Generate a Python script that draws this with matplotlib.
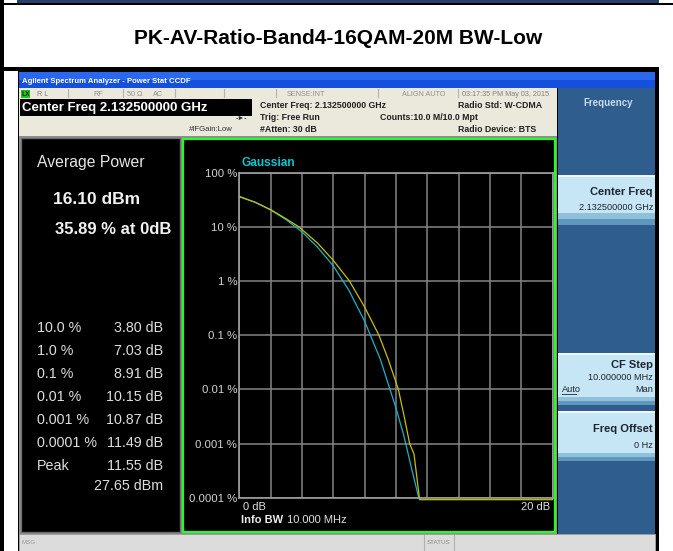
import matplotlib
matplotlib.use("Agg")
import matplotlib.pyplot as plt
from matplotlib.patches import Rectangle
from matplotlib.ticker import NullLocator

plt.rcParams["font.family"] = ["Liberation Sans", "DejaVu Sans"]

W, H = 673, 551

title = "PK-AV-Ratio-Band4-16QAM-20M BW-Low"

# CCDF traces: power above average (dB) vs probability (%)
meas_db = [0, 1, 2, 3, 3.80, 5, 6, 7.03, 8, 8.91, 9.5, 10.15, 10.5, 10.87, 10.95, 11.15, 11.49, 11.55, 20]
meas_pct = [35.89, 28.6, 20.8, 14.0, 10.0, 5.0, 2.4, 1.0, 0.33, 0.1, 0.036, 0.01, 0.0034, 0.001,
            0.00088, 0.00064, 0.0001, 0.000092, 0.000092]
gauss_db = [0, 1, 2, 3, 4, 5, 6, 7, 8, 9, 10, 10.5, 11, 11.45, 11.5]
gauss_pct = [36.8, 28.4, 20.5, 13.5, 8.1, 4.2, 1.9, 0.67, 0.18, 0.036, 0.0045, 0.0014, 0.00034, 0.0001, 0.000092]

y_ticks = [100, 10, 1, 0.1, 0.01, 0.001, 0.0001]
y_labels = ["100 %", "10 %", "1 %", "0.1 %", "0.01 %", "0.001 %", "0.0001 %"]
x_grid = [0, 2, 4, 6, 8, 10, 12, 14, 16, 18, 20]

stat_levels = ["10.0 %", "1.0 %", "0.1 %", "0.01 %", "0.001 %", "0.0001 %", "Peak", ""]
stat_values = ["3.80 dB", "7.03 dB", "8.91 dB", "10.15 dB", "10.87 dB", "11.49 dB", "11.55 dB", "27.65 dBm"]

fig = plt.figure(figsize=(W / 100, H / 100), dpi=100)
bg = fig.add_axes([0, 0, 1, 1])
bg.set_xlim(0, W)
bg.set_ylim(H, 0)
bg.axis("off")


def box(x0, y0, x1, y1, fc, ec="none", lw=0):
    bg.add_patch(Rectangle((x0, y0), x1 - x0, y1 - y0, facecolor=fc, edgecolor=ec, linewidth=lw))


def txt(x, y, s, size, color="black", weight="normal", ha="left"):
    bg.text(x, y, s, fontsize=size, color=color, fontweight=weight, ha=ha, va="center")


# document table around the screenshot
box(17, 0, 659, 2.5, "#2b3f6b")
box(0, 2.5, W, 5, "black")
box(0, 0, 4, H, "black")
box(0, 67, 659, 71, "black")
txt(338, 38, title, 15, weight="bold", ha="center")

# analyzer window frame
box(18, 71, 659, H, "black")
box(19, 72, 655, 80, "#2a68f0")
box(19, 80, 655, 88, "#1550dc")
txt(22, 81.5, "Agilent Spectrum Analyzer - Power Stat CCDF", 5.6, "white", "bold")

# status row
box(19, 88, 557, 98, "#ebe8dc")
for sx in [68, 123, 175, 224, 276, 378, 458]:
    bg.plot([sx, sx], [89, 97], color="#b4b4b4", lw=0.8)
box(21, 90, 30, 97.5, "#22c022")
txt(22, 94, "LX", 4.8, "#103010", "bold")
txt(37, 94, "R L", 5.2, "#808080")
txt(93, 94, "RF", 5.2, "#909090")
txt(127, 94, "50 Ω", 5.2, "#909090")
txt(153, 94, "AC", 5.2, "#909090")
txt(287, 94, "SENSE:INT", 5.2, "#909090")
txt(402, 94, "ALIGN AUTO", 5.2, "#909090")
txt(462, 94, "03:17:35 PM May 03, 2015", 5.2, "#808080")

# setup info panel
box(19, 98, 557, 136, "#ebe8dc")
box(20, 99, 252, 116, "black")
txt(22, 108, "Center Freq 2.132500000 GHz", 9.5, "white", "bold")
txt(236, 118, "-►-", 5, "#303030", "bold")
txt(233, 129.5, "#IFGain:Low", 5.6, "#303030", ha="right")
txt(260, 105, "Center Freq: 2.132500000 GHz", 6.3, "#202020", "bold")
txt(260, 117, "Trig: Free Run", 6.3, "#202020", "bold")
txt(260, 129, "#Atten: 30 dB", 6.3, "#202020", "bold")
txt(380, 117, "Counts:10.0 M/10.0 Mpt", 6.3, "#202020", "bold")
txt(458, 105, "Radio Std: W-CDMA", 6.3, "#202020", "bold")
txt(458, 129, "Radio Device: BTS", 6.3, "#202020", "bold")

# main display area
box(19, 136, 557, 534, "#8e8e8e")
box(21, 138, 180, 532, "black", "#6c6c6c", 1)
box(182.5, 138.5, 555, 531.5, "black", "#22ff22", 1.6)

txt(37, 162, "Average Power", 11.3, "#e6e6e6")
txt(53, 200, "16.10 dBm", 12.5, "#f2f2f2", "bold")
txt(55, 229, "35.89 % at 0dB", 12, "#f2f2f2", "bold")
row_y = [328, 351, 374, 397, 420, 443, 466, 486]
for yy, lab, val in zip(row_y, stat_levels, stat_values):
    txt(37, yy, lab, 10.3, "#dedede")
    txt(163, yy, val, 10.3, "#dedede", ha="right")

txt(241, 163, "Gaussian", 8.6, "#10c4cc", "bold")
txt(243, 507, "0 dB", 8, "#e0e0e0")
txt(550, 507, "20 dB", 8, "#e0e0e0", ha="right")
txt(241, 520, "Info BW", 8, "#ececec", "bold")
txt(287, 520, "10.000 MHz", 8, "#e0e0e0")

# softkey panel
box(558, 88, 655, 534, "#2f5d8d")
txt(608, 103, "Frequency", 7, "#c8dcee", "bold", ha="center")
keys = [(175, 213, 225, 192, 208, "Center Freq", "2.132500000 GHz"),
        (353, 397, 405, 365, 377, "CF Step", "10.000000 MHz"),
        (411, 453, 461, 429, 445, "Freq Offset", "0 Hz")]
for top, mid, bot, y_name, y_val, name, value in keys:
    box(558, top, 655, top + 2, "#eef8fd")
    box(558, top + 2, 655, mid, "#c6e5f5")
    box(558, mid, 655, mid + (bot - mid) / 2, "#8fc0dc")
    box(558, mid + (bot - mid) / 2, 655, bot, "#5f97bd")
    txt(653, y_name, name, 8, "#1c2430", "bold", ha="right")
    txt(653, y_val, value, 6.6, "#1c2430", ha="right")
txt(562, 390, "Auto", 6.6, "#1c2430")
bg.plot([562, 576], [394, 394], color="#1c2430", lw=0.6)
txt(653, 390, "Man", 6.6, "#1c2430", ha="right")

# bottom message bar
box(19, 534, 655, H, "#dcdcdc", "#a8a8a8", 0.6)
txt(22, 543, "MSG", 4.5, "#9a9a9a")
bg.plot([424, 424], [535, H], color="#b0b0b0", lw=0.8)
bg.plot([454, 454], [535, H], color="#b0b0b0", lw=0.8)
txt(439, 543, "STATUS", 4.5, "#8a8a8a", ha="center")

# CCDF graph
L, R, T, B = 239.3, 552.7, 172.7, 497.7
ax = fig.add_axes([L / W, 1 - B / H, (R - L) / W, (B - T) / H])
ax.set_facecolor("black")
ax.set_yscale("log")
ax.set_xlim(0, 20)
ax.set_ylim(1e-4, 100)
ax.set_xticks(x_grid)
ax.set_xticklabels([])
ax.set_yticks(y_ticks)
ax.set_yticklabels(y_labels)
ax.yaxis.set_minor_locator(NullLocator())
ax.tick_params(length=0, pad=1.5, labelsize=8.2, labelcolor="#d4d4d4")
ax.grid(True, color="#858585", lw=1.1)
for s in ax.spines.values():
    s.set_color("#a0a0a0")
    s.set_linewidth(1.2)
ax.plot(gauss_db, gauss_pct, color="#18b4c4", lw=0.9, clip_on=False)
ax.plot(meas_db, meas_pct, color="#c8c000", lw=0.9, clip_on=False)

fig.savefig("out.png", dpi=100)
